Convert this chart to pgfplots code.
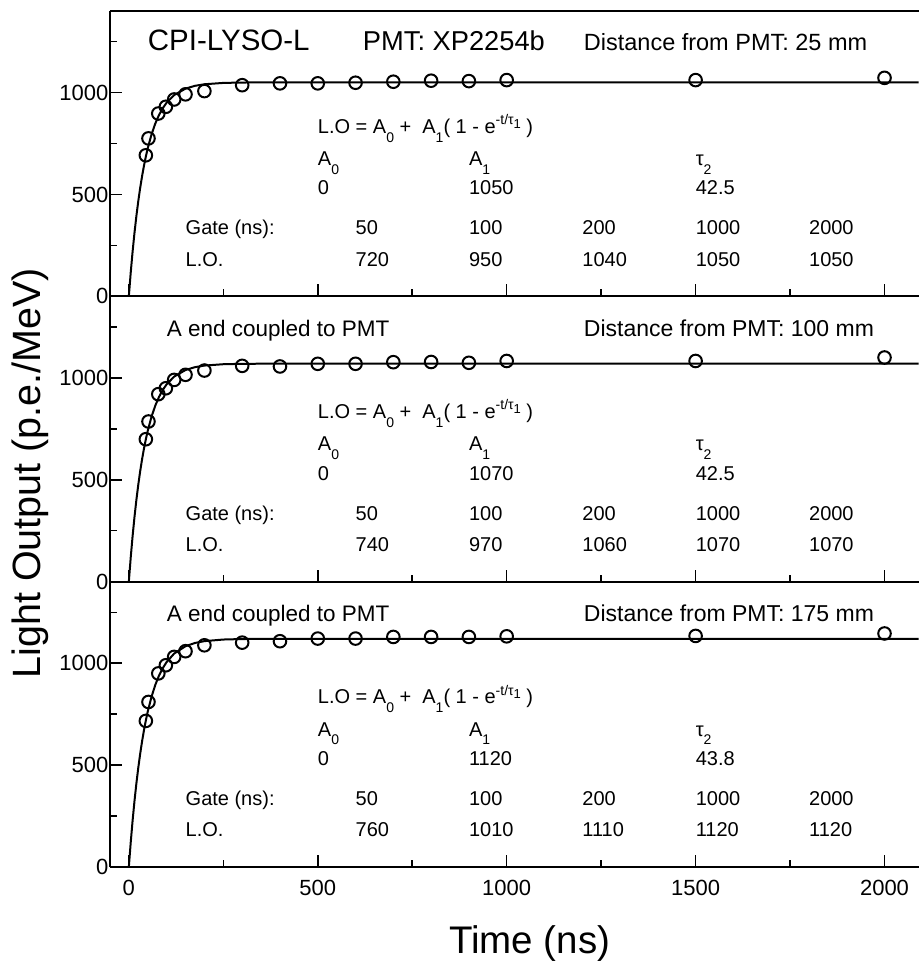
\documentclass[border=0pt]{standalone}
\usepackage{fontspec}
\setmainfont{Liberation Sans}
\usepackage{pgfplots}
\pgfplotsset{compat=1.18}

\tikzset{txt/.style={anchor=base west, inner sep=0pt, font=\fontsize{20}{24}\selectfont}}
\newcommand\sub[1]{\raisebox{-0.85ex}{\fontsize{14}{14}\selectfont #1}}
\newcommand\ssub[1]{\raisebox{-0.5ex}{\fontsize{13}{13}\selectfont #1}}
\newcommand\fitbox[7]{%
 \node[txt] at (axis cs:500,800) {L.O = A\sub{0} +\ \ A\sub{1}( 1 - e\raisebox{0.85ex}{\fontsize{14}{14}\selectfont -t/τ\ssub{1}} )};
 \node[txt] at (axis cs:500,643) {A\sub{0}};
 \node[txt] at (axis cs:900,643) {A\sub{1}};
 \node[txt] at (axis cs:1500,643) {τ\sub{2}};
 \node[txt] at (axis cs:500,498) {0};
 \node[txt] at (axis cs:900,498) {#1};
 \node[txt] at (axis cs:1500,498) {#2};
 \node[txt] at (axis cs:150,302) {Gate (ns):};
 \node[txt] at (axis cs:600,302) {50};
 \node[txt] at (axis cs:900,302) {100};
 \node[txt] at (axis cs:1200,302) {200};
 \node[txt] at (axis cs:1500,302) {1000};
 \node[txt] at (axis cs:1800,302) {2000};
 \node[txt] at (axis cs:150,148) {L.O.};
 \node[txt] at (axis cs:600,148) {#3};
 \node[txt] at (axis cs:900,148) {#4};
 \node[txt] at (axis cs:1200,148) {#5};
 \node[txt] at (axis cs:1500,148) {#6};
 \node[txt] at (axis cs:1800,148) {#7};
}

\pgfplotsset{
 panel/.style={
  scale only axis, width=809pt, height=285.5pt,
  xmin=-50, xmax=2090, ymin=0, ymax=1400,
  axis x line*=box, axis y line*=left,
  axis line style={line width=2pt},
  xtick={0,500,1000,1500,2000}, minor xtick={250,750,1250,1750},
  ytick={0,500,1000}, minor ytick={250,750,1250},
  tick align=inside, xtick pos=bottom, ytick pos=left,
  major tick length=12pt, minor tick length=7pt,
  every tick/.style={black, line width=1.5pt},
  tick label style={font=\fontsize{22}{26}\selectfont},
  xticklabel style={yshift=-10pt},
  yticklabel style={xshift=2pt},
  /pgf/number format/assume math mode=true,
  /pgf/number format/1000 sep={},
 },
 fit/.style={black, line width=2pt, mark=none},
 pts/.style={black, only marks, mark=o, mark size=6.3pt, mark options={line width=2pt}},
}

\begin{document}
\begin{tikzpicture}
% ---------- top panel ----------
\begin{axis}[panel, name=a1, xticklabels={}]
\addplot[fit] coordinates {(0,0) (5,116.6) (10,220.2) (15,312.3) (20,394.2) (25,466.9) (30,531.6) (35,589.2) (40,640.3) (45,685.8) (50,726.2) (60,794.1) (70,847.8) (80,890.2) (90,923.7) (100,950.1) (120,987.6) (150,1019.2) (175,1032.9) (200,1040.6) (250,1047.1) (300,1049.1) (400,1049.9) (2090,1050)};
\addplot[pts] coordinates {(45,692) (52,775) (78,897) (98,930) (120,966) (150,991) (200,1007) (300,1036) (400,1045) (500,1045) (600,1048) (700,1053) (800,1058) (900,1056) (1000,1061) (1500,1061) (2000,1072)};
\node[anchor=base west, inner sep=0pt, font=\fontsize{29.5}{34}\selectfont] at (axis cs:50,1205) {CPI-LYSO-L};
\node[anchor=base west, inner sep=0pt, font=\fontsize{27.3}{32}\selectfont] at (axis cs:619,1205) {PMT: XP2254b};
\node[anchor=base west, inner sep=0pt, font=\fontsize{23.5}{28}\selectfont] at (axis cs:1204,1205) {Distance from PMT: 25 mm};
\fitbox{1050}{42.5}{720}{950}{1040}{1050}{1050}
\end{axis}
% ---------- middle panel ----------
\begin{axis}[panel, name=a2, at={(a1.south west)}, anchor=north west, xticklabels={}]
\addplot[fit] coordinates {(0,0) (5,118.8) (10,224.4) (15,318.2) (20,401.7) (25,475.8) (30,541.7) (35,600.4) (40,652.5) (45,698.8) (50,740.0) (60,809.2) (70,863.9) (80,907.1) (90,941.3) (100,968.2) (120,1006.4) (150,1038.6) (175,1052.6) (200,1060.4) (250,1067.0) (300,1069.0) (400,1069.9) (2090,1070)};
\addplot[pts] coordinates {(45,699) (52,786) (78,920) (98,949) (120,990) (150,1015) (200,1036) (300,1059) (400,1056) (500,1069) (600,1069) (700,1077) (800,1078) (900,1074) (1000,1083) (1500,1083) (2000,1100)};
\node[anchor=base west, inner sep=0pt, font=\fontsize{22.5}{27}\selectfont] at (axis cs:100,1205) {A end coupled to PMT};
\node[anchor=base west, inner sep=0pt, font=\fontsize{23}{28}\selectfont] at (axis cs:1204,1205) {Distance from PMT: 100 mm};
\fitbox{1070}{42.5}{740}{970}{1060}{1070}{1070}
\end{axis}
% ---------- bottom panel ----------
\begin{axis}[panel, name=a3, at={(a2.south west)}, anchor=north west]
\addplot[fit] coordinates {(0,0) (5,120.8) (10,228.6) (15,324.8) (20,410.5) (25,487.1) (30,555.4) (35,616.3) (40,670.7) (45,719.2) (50,762.4) (60,835.4) (70,893.4) (80,939.7) (90,976.5) (100,1005.8) (120,1047.6) (150,1083.5) (175,1099.4) (200,1108.4) (250,1116.3) (300,1118.8) (400,1119.9) (2090,1120)};
\addplot[pts] coordinates {(45,717) (52,810) (78,950) (98,990) (120,1031) (150,1059) (200,1088) (300,1101) (400,1108) (500,1121) (600,1121) (700,1129) (800,1129) (900,1129) (1000,1132) (1500,1134) (2000,1146)};
\node[anchor=base west, inner sep=0pt, font=\fontsize{22.5}{27}\selectfont] at (axis cs:100,1205) {A end coupled to PMT};
\node[anchor=base west, inner sep=0pt, font=\fontsize{23}{28}\selectfont] at (axis cs:1204,1205) {Distance from PMT: 175 mm};
\fitbox{1120}{43.8}{760}{1010}{1110}{1120}{1120}
\end{axis}
\node[font=\fontsize{38.5}{44}\selectfont] at ([xshift=420pt,yshift=-77pt]a3.south west) {Time (ns)};
\node[rotate=90, font=\fontsize{39.5}{46}\selectfont] at ([xshift=-80pt,yshift=394pt]a3.south west) {Light Output (p.e./MeV)};
\pgfresetboundingbox
\path[use as bounding box] ([xshift=-110pt,yshift=11pt]a1.north west) rectangle ([yshift=-99pt]a3.south east);
\end{tikzpicture}
\end{document}
